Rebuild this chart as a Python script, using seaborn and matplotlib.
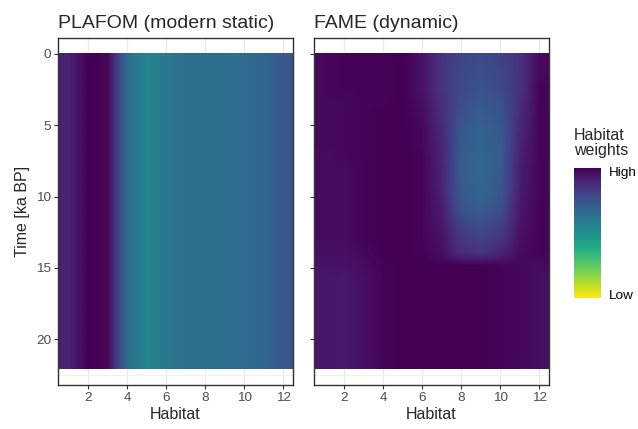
import numpy as np
import matplotlib
matplotlib.use("Agg")
import matplotlib.pyplot as plt
import seaborn as sns

# habitat classes and time axis (ka BP)
habitats = np.arange(1, 13)
times = np.arange(0, 23)
time_range = (0.0, 22.1)

# PLAFOM uses the same (modern) habitat weights at every time step
plafom_weights = [0.90, 1.00, 0.98, 0.64, 0.55, 0.60, 0.63, 0.63, 0.63, 0.65, 0.67, 0.73]

# FAME weights, one row per ka, columns = habitat 1..12
fame_weights = [
    [0.98, 0.99, 0.99, 0.99, 1.00, 0.95, 0.85, 0.79, 0.77, 0.80, 0.86, 0.98],
    [0.98, 0.99, 0.99, 0.99, 1.00, 0.95, 0.85, 0.78, 0.76, 0.79, 0.86, 0.98],
    [0.98, 0.99, 0.99, 0.99, 1.00, 0.95, 0.85, 0.78, 0.75, 0.78, 0.86, 0.99],
    [0.98, 0.98, 0.99, 0.99, 1.00, 0.96, 0.86, 0.77, 0.73, 0.76, 0.87, 0.99],
    [0.98, 0.98, 0.99, 1.00, 1.00, 0.97, 0.87, 0.75, 0.71, 0.74, 0.88, 0.99],
    [0.98, 0.98, 0.99, 1.00, 1.00, 0.98, 0.88, 0.73, 0.69, 0.73, 0.89, 0.99],
    [0.98, 0.98, 0.99, 1.00, 1.00, 0.98, 0.89, 0.72, 0.68, 0.72, 0.90, 0.99],
    [0.97, 0.98, 0.99, 1.00, 1.00, 0.99, 0.89, 0.71, 0.67, 0.72, 0.91, 0.99],
    [0.97, 0.97, 0.99, 1.00, 1.00, 0.99, 0.90, 0.71, 0.66, 0.72, 0.92, 0.99],
    [0.97, 0.97, 0.99, 1.00, 1.00, 0.99, 0.90, 0.71, 0.67, 0.73, 0.92, 0.99],
    [0.97, 0.97, 0.99, 1.00, 1.00, 0.99, 0.91, 0.72, 0.68, 0.74, 0.93, 0.99],
    [0.97, 0.97, 0.99, 1.00, 1.00, 0.99, 0.92, 0.75, 0.71, 0.77, 0.94, 0.99],
    [0.97, 0.97, 0.99, 1.00, 1.00, 0.99, 0.93, 0.80, 0.77, 0.81, 0.95, 0.99],
    [0.97, 0.97, 0.99, 1.00, 1.00, 0.99, 0.95, 0.84, 0.81, 0.85, 0.96, 0.99],
    [0.96, 0.96, 0.98, 1.00, 1.00, 0.99, 0.96, 0.87, 0.85, 0.89, 0.97, 0.99],
    [0.95, 0.95, 0.97, 0.99, 1.00, 1.00, 1.00, 1.00, 1.00, 0.99, 0.98, 0.97],
    [0.94, 0.93, 0.96, 0.99, 1.00, 1.00, 1.00, 1.00, 1.00, 0.99, 0.98, 0.96],
    [0.94, 0.93, 0.96, 0.99, 1.00, 1.00, 1.00, 1.00, 1.00, 0.99, 0.98, 0.96],
    [0.94, 0.93, 0.96, 0.99, 1.00, 1.00, 1.00, 1.00, 1.00, 0.99, 0.98, 0.96],
    [0.94, 0.93, 0.96, 0.99, 1.00, 1.00, 1.00, 1.00, 1.00, 0.99, 0.98, 0.96],
    [0.94, 0.93, 0.96, 0.99, 1.00, 1.00, 1.00, 1.00, 1.00, 0.99, 0.98, 0.96],
    [0.94, 0.93, 0.96, 0.99, 1.00, 1.00, 1.00, 1.00, 1.00, 0.99, 0.98, 0.96],
    [0.94, 0.93, 0.96, 0.99, 1.00, 1.00, 1.00, 1.00, 1.00, 0.99, 0.98, 0.96],
]

panel_titles = ["PLAFOM (modern static)", "FAME (dynamic)"]

sns.set_style("white")
plt.rcParams['font.family'] = ['Liberation Sans', 'DejaVu Sans']

fig = plt.figure(figsize=(6.38, 4.29), dpi=100)
ax1 = fig.add_axes([58 / 638, 1 - 385 / 429, 235 / 638, 347 / 429])
ax2 = fig.add_axes([314 / 638, 1 - 385 / 429, 235 / 638, 347 / 429])

grids = [np.tile(plafom_weights, (len(times), 1)), np.array(fame_weights)]
extent = [habitats[0] - 0.5, habitats[-1] + 0.5, time_range[1], time_range[0]]
pad = 0.05 * (time_range[1] - time_range[0])

for ax, grid, title in zip([ax1, ax2], grids, panel_titles):
    im = ax.imshow(grid, cmap='viridis_r', vmin=0, vmax=1, aspect='auto',
                   interpolation='bilinear', extent=extent, zorder=1)
    ax.set_xlim(habitats[0] - 0.55, habitats[-1] + 0.5)
    ax.set_ylim(time_range[1] + pad, time_range[0] - pad)
    ax.set_xticks(np.arange(2, 13, 2))
    ax.set_yticks([0, 5, 10, 15, 20])
    ax.set_yticks([2.5, 7.5, 12.5, 17.5, 22.5], minor=True)
    ax.set_axisbelow(True)
    ax.grid(True, which='major', color='#ebebeb', linewidth=0.9)
    ax.grid(True, which='minor', axis='y', color='#ebebeb', linewidth=0.5)
    ax.tick_params(which='major', bottom=True, left=True, length=3, width=0.8,
                   color='#333333', labelcolor='#4d4d4d', labelsize=9.7, pad=2)
    ax.tick_params(which='minor', length=0)
    for s in ax.spines.values():
        s.set_color('#333333')
        s.set_linewidth(1.0)
    ax.set_title(title, loc='left', fontsize=14, pad=7)
    ax.set_xlabel('Habitat', fontsize=11.5, labelpad=2)

ax1.set_ylabel('Time [ka BP]', fontsize=11.5, labelpad=4)
ax2.tick_params(labelleft=False)

# colour bar legend
cax = fig.add_axes([574 / 638, 1 - 298 / 429, 27 / 638, 130 / 429])
cb = fig.colorbar(im, cax=cax)
cb.outline.set_visible(False)
cb.set_ticks([0.03, 0.97])
cb.set_ticklabels(['Low', 'High'])
cax.tick_params(direction='in', left=True, right=True, length=5, width=0.8,
                color='white', labelcolor='black', labelsize=9.7, pad=6)
fig.text(574 / 638, 1 - 128 / 429, 'Habitat\nweights', fontsize=11.5,
         ha='left', va='top', linespacing=1.0)

fig.savefig('out.png', dpi=100)
